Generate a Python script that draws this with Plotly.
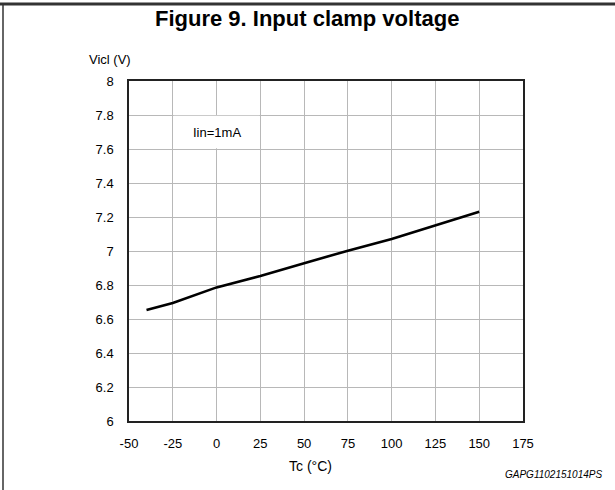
import plotly.graph_objects as go

# Data
tc = [-40, -25, 0, 25, 50, 75, 100, 125, 150]
vicl = [6.653, 6.694, 6.786, 6.853, 6.928, 7.002, 7.071, 7.153, 7.231]

x_ticks = [-50, -25, 0, 25, 50, 75, 100, 125, 150, 175]
y_ticks = [6, 6.2, 6.4, 6.6, 6.8, 7, 7.2, 7.4, 7.6, 7.8, 8]
y_tick_labels = ["6", "6.2", "6.4", "6.6", "6.8", "7", "7.2", "7.4", "7.6", "7.8", "8"]

W, H = 615, 490
L, R, T, B = 129, 523, 81, 421
pw, ph = R - L, B - T

def px(x):
    return (x - L) / pw

def py(y):
    return (B - y) / ph

FONT = "Liberation Sans, Arial, sans-serif"

fig = go.Figure()
fig.add_trace(go.Scatter(x=tc, y=vicl, mode="lines",
                         line=dict(color="black", width=2.6), showlegend=False,
                         hoverinfo="skip"))

grid = dict(showgrid=True, gridcolor="#b8b8b8", gridwidth=1.3,
            showline=True, linecolor="#222222", linewidth=1.5, mirror=True,
            zeroline=False, ticks="", tickfont=dict(family=FONT, size=13, color="black"))

fig.update_xaxes(range=[-50, 175], tickmode="array", tickvals=x_ticks,
                 ticktext=[str(v) for v in x_ticks], ticklabelstandoff=10, **grid)
fig.update_yaxes(range=[6, 8], tickmode="array", tickvals=y_ticks,
                 ticktext=y_tick_labels, ticklabelstandoff=11, **grid)

shapes = [
    # legend box covering the grid
    dict(type="rect", xref="x", yref="y", x0=-24.6, x1=24.6, y0=7.604, y1=7.796,
         fillcolor="white", line=dict(width=0), layer="between"),
    # frame top (thick) and left
    dict(type="line", xref="paper", yref="paper", x0=px(0), x1=px(615), y0=py(4), y1=py(4),
         line=dict(color="#333333", width=3)),
    dict(type="line", xref="paper", yref="paper", x0=px(3), x1=px(3), y0=py(4), y1=py(492),
         line=dict(color="#333333", width=1.5)),
]

annotations = [
    dict(text="<b>Figure 9. Input clamp voltage</b>", xref="paper", yref="paper",
         x=px(307), y=py(19), xanchor="center", yanchor="middle", showarrow=False,
         font=dict(family=FONT, size=22, color="black")),
    dict(text="Vicl (V)", xref="paper", yref="paper", x=px(87), y=py(59),
         xanchor="left", yanchor="middle", showarrow=False,
         font=dict(family=FONT, size=13, color="black")),
    dict(text="Iin=1mA", xref="x", yref="y", x=0, y=7.7,
         xanchor="center", yanchor="middle", showarrow=False,
         font=dict(family=FONT, size=13, color="black")),
    dict(text="Tc (°C)", xref="paper", yref="paper", x=px(310), y=py(466),
         xanchor="center", yanchor="middle", showarrow=False,
         font=dict(family=FONT, size=14, color="black")),
    dict(text="<i>GAPG1102151014PS</i>", xref="paper", yref="paper", x=px(604), y=py(475),
         xanchor="right", yanchor="middle", showarrow=False,
         font=dict(family=FONT, size=10, color="black")),
]

fig.update_layout(width=W, height=H, margin=dict(l=L, r=W - R, t=T, b=H - B),
                  paper_bgcolor="white", plot_bgcolor="white",
                  shapes=shapes, annotations=annotations, showlegend=False)

fig.write_html("out.html", config={"displayModeBar": False},
               post_script="document.body.style.margin='0';document.body.style.overflow='hidden';")
